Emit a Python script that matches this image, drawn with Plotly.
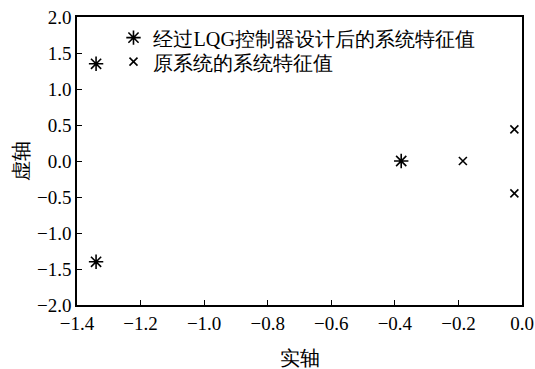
import plotly.graph_objects as go

# Eigenvalues of the closed-loop system after LQG design
lqg_real = [-1.34, -1.34, -0.38]
lqg_imag = [1.35, -1.40, 0.0]

# Eigenvalues of the original open-loop system
orig_real = [-0.186, -0.024, -0.024]
orig_imag = [0.0, 0.44, -0.45]

x_ticks = [-1.4, -1.2, -1.0, -0.8, -0.6, -0.4, -0.2, 0.0]
y_ticks = [-2.0, -1.5, -1.0, -0.5, 0.0, 0.5, 1.0, 1.5, 2.0]

font_family = "Times New Roman, serif"

fig = go.Figure()
fig.add_trace(go.Scatter(
    x=lqg_real, y=lqg_imag, mode="markers",
    name="经过LQG控制器设计后的系统特征值", legend="legend",
    marker=dict(symbol="asterisk-open", size=12, color="black",
                line=dict(width=1.6, color="black")),
))
fig.add_trace(go.Scatter(
    x=orig_real, y=orig_imag, mode="markers",
    name="原系统的系统特征值", legend="legend2",
    marker=dict(symbol="x-thin-open", size=8, color="black",
                line=dict(width=1.6, color="black")),
))

axis_common = dict(
    showgrid=False, zeroline=False, showline=True, linecolor="black",
    linewidth=1.5, mirror=True, ticks="inside", ticklen=5, tickwidth=1.2,
    tickcolor="black", automargin=False,
    tickfont=dict(size=19, color="black", family=font_family),
)

fig.update_xaxes(
    range=[-1.4, 0.0], tickvals=x_ticks,
    ticktext=[f"{v:.1f}".replace("-", "\u2212") for v in x_ticks],
    title=dict(text="实轴", font=dict(size=20, color="black", family=font_family),
               standoff=22),
    **axis_common,
)
fig.update_yaxes(
    range=[-2.0, 2.0], tickvals=y_ticks,
    ticktext=[f"{v:.1f}".replace("-", "\u2212") for v in y_ticks],
    title=dict(text="虚轴", font=dict(size=20, color="black", family=font_family),
               standoff=3),
    **axis_common,
)

legend_common = dict(
    xanchor="left", yanchor="middle", bgcolor="rgba(0,0,0,0)", borderwidth=0,
    font=dict(size=20.2, color="black", family=font_family), itemwidth=30,
)

fig.update_layout(
    width=535, height=369,
    margin=dict(l=77, r=13, t=17, b=64, autoexpand=False),
    paper_bgcolor="white", plot_bgcolor="white",
    font=dict(family=font_family, color="black", size=19),
    showlegend=True,
    legend=dict(x=0.082, y=(288 - (38 - 17)) / 288, **legend_common),
    legend2=dict(x=0.082, y=(288 - (62 - 17)) / 288, **legend_common),
)

fig.write_html("out.html")
